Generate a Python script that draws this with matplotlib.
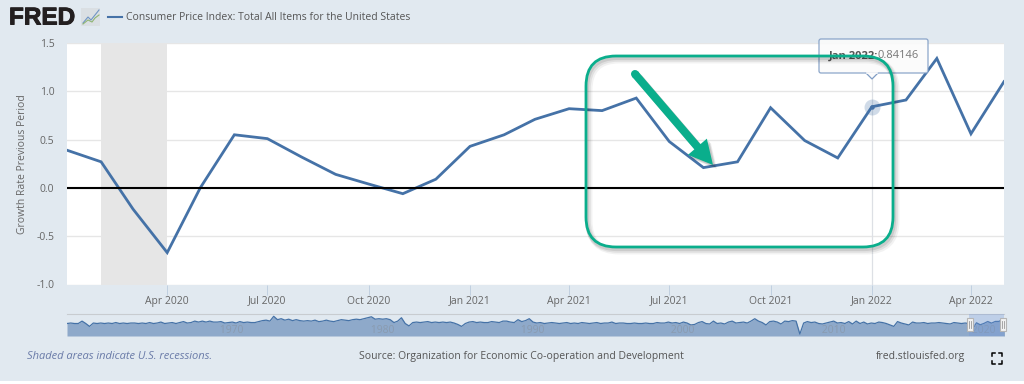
import numpy as np
import pandas as pd
import matplotlib
matplotlib.use('Agg')
from matplotlib import pylab as plt
from matplotlib import patheffects as pe
from matplotlib.patches import FancyBboxPatch, Polygon, Rectangle

plt.rcParams['font.family'] = ['Open Sans', 'DejaVu Sans']

# monthly growth rate, Jan 2020 to May 2022
growth = [0.39, 0.27, -0.22, -0.67, 0.00, 0.55, 0.51, 0.32, 0.14, 0.04,
          -0.06, 0.09, 0.43, 0.55, 0.71, 0.82, 0.80, 0.93, 0.48, 0.21,
          0.27, 0.83, 0.49, 0.31, 0.84, 0.91, 1.34, 0.56, 1.10]
months = pd.date_range('2020-01-01', periods=len(growth), freq='MS')
recession = ['2020-02-01', '2020-04-01']
tick_dates = ['2020-04-01', '2020-07-01', '2020-10-01', '2021-01-01', '2021-04-01',
              '2021-07-01', '2021-10-01', '2022-01-01', '2022-04-01']
tick_labels = ['Apr 2020', 'Jul 2020', 'Oct 2020', 'Jan 2021', 'Apr 2021',
               'Jul 2021', 'Oct 2021', 'Jan 2022', 'Apr 2022']
y_ticks = [-1.0, -0.5, 0.0, 0.5, 1.0, 1.5]

# navigator series, quarterly estimates, one row per five years from 1960
nav_growth = [
    0.4, 0.5, 0.4, 0.4, 0.9, 0.4, -0.2, 0.5, 0.4, 0.5, 0.4, 0.5, 0.4, 0.6, 0.4, 0.5, 0.4, 0.5, 0.5, 0.4,
    0.5, 0.4, 0.6, 0.4, 0.5, 0.7, 0.4, 0.5, 0.6, 0.4, 0.6, 0.8, 0.5, 0.6, 0.9, 0.7, 0.9, 0.7, 0.9, 0.7,
    0.7, 0.8, 0.5, 0.6, 0.7, 0.5, 0.8, 0.6, 0.7, 0.6, 0.6, 0.8, 1.0, 1.1, 0.9, 1.9, 1.2, 1.4, 1.1, 1.3,
    1.0, 1.2, 1.0, 0.9, 1.0, 0.9, 1.1, 0.8, 0.9, 1.1, 0.9, 0.8, 1.0, 1.2, 1.1, 1.0, 1.2, 1.3, 1.2, 1.4,
    1.6, 1.8, 1.3, 1.4, 1.3, 1.4, 1.2, 0.6, 0.9, 1.6, 0.4, -0.1, 0.6, 0.7, 0.6, 0.7, 0.8, 0.6, 0.7, 0.6,
    0.7, 0.6, 0.7, 0.5, 0.2, -0.2, 0.4, 0.7, 0.8, 0.6, 0.7, 0.6, 0.6, 0.8, 0.7, 0.6, 0.9, 0.9, 0.7, 0.6,
    1.2, 0.8, 1.0, 1.4, 0.7, 0.5, 0.6, 0.4, 0.5, 0.6, 0.5, 0.4, 0.5, 0.6, 0.4, 0.5, 0.4, 0.6, 0.5, 0.4,
    0.5, 0.6, 0.4, 0.5, 0.5, 0.7, 0.4, 0.5, 0.5, 0.4, 0.4, 0.5, 0.4, 0.4, 0.5, 0.4, 0.4, 0.6, 0.5, 0.5,
    0.7, 0.5, 0.6, 0.4, 0.7, 0.5, 0.1, 0.2, 0.6, 0.8, 0.4, 0.3, 0.9, 0.4, 0.5, 0.3, 0.7, 0.9, 0.5, 0.6,
    0.7, 0.5, 0.9, 1.4, 0.9, 0.6, 0.1, 0.8, 0.9, 0.7, 0.3, 0.9, 0.8, 1.0, 0.9, -1.8, 0.5, 0.8, 0.6, 0.7,
    0.4, 0.3, 0.5, 0.7, 0.9, 0.5, 0.6, 0.4, 0.8, 0.3, 0.9, 0.4, 0.7, 0.3, 0.5, 0.4, 0.7, 0.6, 0.4, 0.1,
    -0.2, 0.8, 0.5, 0.3, 0.1, 0.7, 0.5, 0.5, 0.6, 0.4, 0.5, 0.5, 0.6, 0.5, 0.4, 0.3, 0.6, 0.5, 0.4, 0.5,
    0.39, -0.67, 0.55, 0.14, 0.43, 0.82, 0.48, 0.83, 0.84, 1.34, 1.10]
nav_dates = pd.date_range('1960-01-01', periods=len(nav_growth), freq='QS')
nav_end = '2022-05-01'
nav_years = [1970, 1980, 1990, 2000, 2010, 2020]

PAGE = '#e1e9f0'
LINE = '#4572a7'
GRAY = '#666666'
GREEN = '#0aae8c'
W, H = 1024, 384


def px_axes(x0, y0, x1, y1):
    # axes rectangle given in picture pixels
    return plt.axes([x0 / W, 1 - y1 / H, (x1 - x0) / W, (y1 - y0) / H])


fig = plt.figure(figsize=(W / 100, H / 100), dpi=100, facecolor=PAGE)

# main chart
ax = px_axes(67, 43, 1004, 284.5)
ax.plot(months, growth, color=LINE, lw=2.0, zorder=4, solid_joinstyle='miter')
ax.axhline(0, color='black', lw=1.5, zorder=5)
ax.axvspan(pd.Timestamp(recession[0]), pd.Timestamp(recession[1]), color='#e6e6e6', lw=0, zorder=2)
ax.set_xlim(months[0], months[-1])
ax.set_ylim(-1.0, 1.5)
ax.set_xticks(pd.to_datetime(tick_dates))
ax.set_xticklabels(tick_labels, fontsize=7.5, color=GRAY)
ax.set_yticks(y_ticks)
ax.set_yticklabels(['%.1f' % v for v in y_ticks], fontsize=7.5, color=GRAY)
ax.tick_params(axis='x', length=7, width=0.7, color='#c0d0e0', pad=1)
ax.tick_params(axis='y', length=0, pad=9)
ax.grid(True, axis='y', color='#e6e6e6', lw=1, zorder=1)
ax.set_axisbelow(True)
for s in ax.spines.values():
    s.set_visible(False)
ax.set_ylabel('Growth Rate Previous Period', fontsize=7.5, color=GRAY, labelpad=6)

# crosshair and hover marker at Jan 2022
hover = months[24]
ax.axvline(hover, color='#dde0e5', lw=0.9, zorder=3, ymax=0.85)
ax.plot([hover], [growth[24]], 'o', ms=11.5, color=LINE, alpha=0.25, mew=0, zorder=6)
ax.plot([hover], [growth[24]], 'o', ms=3.2, color=LINE, mew=0, zorder=7)

# navigator
nav = px_axes(67, 314, 1004, 336)
nav.fill_between(nav_dates, nav_growth, -2.2, color='#8ea9ca', lw=0, zorder=2)
nav.plot(nav_dates, nav_growth, color=LINE, lw=0.9, zorder=3)
nav.set_xlim(pd.Timestamp('1960-01-01'), pd.Timestamp(nav_end))
nav.set_ylim(-2.2, 2.38)
nav.set_xticks([])
nav.set_yticks([])
nav.set_facecolor(PAGE)
for s in nav.spines.values():
    s.set_visible(False)
nav.spines['top'].set_visible(True)
nav.spines['top'].set_color('#c8ccd0')
for yr in nav_years:
    nav.text(pd.Timestamp('%d-01-01' % yr), 0.10, ' %d' % yr, fontsize=7.5, color='#8a9bb0',
             va='top', ha='left', zorder=4)
nav.axvspan(pd.Timestamp('2020-01-01'), pd.Timestamp(nav_end), color='#6f95d8', alpha=0.3, lw=0, zorder=5)

# everything else in picture pixels
over = plt.axes([0, 0, 1, 1], facecolor='none')
over.set_xlim(0, W)
over.set_ylim(H, 0)
over.axis('off')

over.add_patch(Rectangle((0, 381), W, 3, color='white', lw=0))

# header
logo = over.text(9, 18, 'FRED', family=['Liberation Sans'], fontsize=17.5, fontweight='bold', color='#231f20',
                 va='center', ha='left')
logo.set_path_effects([pe.withStroke(linewidth=0.7, foreground='#231f20')])
over.add_patch(Rectangle((81, 8), 19, 18, color='#dadfe3', lw=0))
over.plot([83, 88, 91, 95, 99], [23, 17, 20, 15, 10], color='#6f95c4', lw=0.8)
over.plot([83, 88, 92, 95, 99], [24, 20, 22, 18, 15], color='#8fb573', lw=0.8)
over.plot([108, 122], [17, 17], color=LINE, lw=1.5)
over.text(126, 17, 'Consumer Price Index: Total All Items for the United States', fontsize=7.5,
          color='#555555', va='center', ha='left')

# footer
over.text(27, 356.5, 'Shaded areas indicate U.S. recessions.', fontsize=8, style='italic',
          color='#6a7ba8', va='center', ha='left')
over.text(521, 356.5, 'Source: Organization for Economic Co-operation and Development', fontsize=7.5,
          color='#555555', va='center', ha='center')
over.text(965, 356.5, 'fred.stlouisfed.org', fontsize=7.5, color='#555555', va='center', ha='right')
for xs, ys in [([992, 992, 995], [356, 353, 353]), ([999, 1002, 1002], [353, 353, 356]),
               ([992, 992, 995], [361, 364, 364]), ([999, 1002, 1002], [364, 364, 361])]:
    over.plot(xs, ys, color='black', lw=1.1)

# navigator handles
for hx in [970, 1003]:
    over.add_patch(Rectangle((hx - 3, 318), 6, 13, fc='#f2f2f2', ec='#b5b5b5', lw=0.8, zorder=6))
    over.plot([hx - 1, hx - 1], [321, 328], color='#999999', lw=0.6, zorder=7)
    over.plot([hx + 1, hx + 1], [321, 328], color='#999999', lw=0.6, zorder=7)

# tooltip
over.add_patch(FancyBboxPatch((819, 39), 109, 34, boxstyle='round,pad=0,rounding_size=2',
                              fc='#fbfbfb', ec='#7f9cc4', lw=0.9, alpha=0.9, zorder=3))
over.add_patch(Polygon([[866, 73], [872, 79], [878, 73]], closed=False, fc='#fbfbfb', ec='#7f9cc4',
                       lw=0.9, zorder=4))
over.plot([867, 877], [73, 73], color='#fbfbfb', lw=1.2, zorder=5)
over.text(829, 56, 'Jan 2022:', fontsize=8, fontweight='bold', color='#555555', va='center', ha='left', zorder=6)
over.text(877, 56, '0.84146', fontsize=8, color='#777777', va='center', ha='left', zorder=6)

# green callout box with soft shadow
for off, lw, a in [(4, 5, 0.05), (3, 4, 0.07), (2, 3, 0.09)]:
    over.add_patch(FancyBboxPatch((586 + off - 1, 56 + off), 307, 191, boxstyle='round,pad=0,rounding_size=30',
                                  fc='none', ec='black', lw=lw, alpha=a, zorder=7))
over.add_patch(FancyBboxPatch((586, 56), 307, 191, boxstyle='round,pad=0,rounding_size=30',
                              fc='none', ec=GREEN, lw=2, zorder=8))

# green arrow
tail = np.array([635.0, 74.0])
tip = np.array([713.0, 165.0])
d = (tip - tail) / np.hypot(*(tip - tail))
n = np.array([-d[1], d[0]])
neck = tip - d * 24
arrow = [tail + n * 4, neck + n * 4, neck + n * 12.5, tip, neck - n * 12.5, neck - n * 4, tail - n * 4]
for off, a in [(4, 0.06), (3, 0.08), (2, 0.1)]:
    over.add_patch(Polygon(np.array(arrow) + off, closed=True, fc='black', ec='none', alpha=a, zorder=9))
over.plot([tail[0], (tail + d)[0]], [tail[1], (tail + d)[1]], color=GREEN, lw=5.8, solid_capstyle='round', zorder=10)
over.add_patch(Polygon(arrow, closed=True, fc=GREEN, ec='none', zorder=10))

fig.savefig('out.png', dpi=100, facecolor=PAGE)
